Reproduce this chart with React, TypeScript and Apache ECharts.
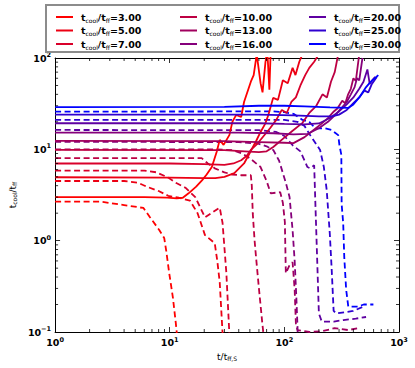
import React, { useEffect, useRef } from "react";
import * as echarts from "echarts";

const ratioLabels = ["3.00", "5.00", "7.00", "10.00", "13.00", "16.00", "20.00", "25.00", "30.00"];
const lineColors = ["#ff0000", "#ec0013", "#d9002a", "#bd0042", "#a1005e", "#85007b", "#5e00a1", "#2f00d0", "#0000ff"];

const solid3 = [[1,3.0],[6,3.0],[9.5,2.96],[11.5,2.9],[13,2.95],[14.6,3.3],[17,3.9],[19.2,4.6],[21,5.3],[23.3,6.4],[25.7,9.4],[27.3,12.7],[29.5,11.2],[33.2,14.4],[35.2,20],[38,23.8],[42,22.6],[44.5,33],[51,55],[54,65],[57.4,110],[62,53],[64.5,42],[68.4,90],[71,120],[74,45],[76,120]];
const solid5 = [[1,4.95],[10,4.9],[20,4.85],[25,4.85],[30,5.0],[36.6,5.5],[44.5,7.0],[51,9.6],[57,12.5],[62,15.5],[68,19],[72.5,23.8],[79.8,36.6],[88,34.8],[97,57],[107,53],[118,78],[125,65],[135,91],[144,110]];
const solid7 = [[1,7],[10,7],[20,6.9],[30,6.75],[36,7.0],[42,7.6],[47,8.5],[51,9.85],[58,11.5],[66,14],[75,17],[85,21],[95,27],[105,25],[115,33],[126,37],[138,50],[152,65],[165,78],[182,91],[200,110]];
const solid10 = [[1,9.85],[30,9.8],[45,9.5],[60,9.3],[70,9.5],[80,10.6],[97,13],[118,16],[144,19.5],[165,25],[190,30],[215,40],[235,37],[255,55],[275,70],[295,110]];
const solid13 = [[1,12.4],[30,12.3],[60,12],[100,11.8],[120,11.7],[150,13.6],[180,16.3],[210,19],[240,22],[270,26],[290,28],[320,34],[340,32],[360,40],[380,46],[400,60],[420,56],[450,110]];
const solid16 = [[1,15.2],[40,15.2],[80,15],[120,14.6],[160,14.8],[200,17],[240,20],[280,24],[320,29],[350,33],[380,40],[410,48],[430,60],[450,57],[480,100]];
const solid20 = [[1,19.3],[60,19.3],[100,19],[150,18.8],[200,19.2],[250,22],[300,26],[350,31],[400,37],[450,46],[490,55],[530,75],[555,52],[590,58],[620,62]];
const solid25 = [[1,24],[60,24],[120,23.5],[200,23],[260,23],[300,24],[350,27],[400,32],[450,37],[500,44],[540,42],[580,52],[640,62]];
const solid30 = [[1,29],[30,29.2],[60,30],[100,30],[150,29.5],[250,28.8],[360,28.4],[400,31],[450,37],[510,47],[560,54],[660,65]];

const dashed3 = [[1,2.67],[2.5,2.67],[4,2.45],[5.9,2.28],[6.7,1.82],[8.1,1.31],[8.95,1.07],[9.3,0.79],[9.9,0.44],[10.65,0.24],[11.3,0.125],[11.6,0.09]];
const dashed5 = [[1,4.5],[4,4.5],[5.3,4.3],[6.3,3.9],[8,3.5],[9.7,3.1],[12,2.95],[15,2.75],[17.5,2.0],[20.3,1.15],[24.7,0.94],[26,0.6],[27.3,0.35],[29,0.09]];
const dashed7 = [[1,5.85],[6,5.85],[7.66,5.6],[9.7,4.9],[11.3,4.3],[13.7,3.8],[16.7,3.0],[20.3,1.8],[27.3,2.3],[28.9,1.56],[31.2,0.44],[33.2,0.09]];
const dashed10 = [[1,8.0],[19,8.0],[21.5,7.0],[24.7,6.2],[30,5.6],[35,5.3],[42,5.2],[51,5.2],[52,4.0],[53,2.0],[55,1.0],[57,0.6],[60,0.3],[64,0.13],[66,0.09]];
const dashed13 = [[1,10],[25,10],[35,9.8],[42,9.1],[50,8],[62,6.4],[70,4.5],[76,3.3],[84,3.35],[92,3.4],[97,2.6],[101,1.6],[103,0.44],[111,0.54],[118,0.58],[123,0.29],[126,0.125],[130,0.105],[165,0.1],[212,0.102],[274,0.11],[361,0.105],[439,0.11]];
const dashed16 = [[1,12.1],[40,12],[60,11.5],[70,10.8],[80,9.85],[90,7.5],[103,4.3],[111,3.0],[118,1.3],[123,0.6],[127,0.25],[130,0.12],[131,0.09]];
const dashed20 = [[1,16.3],[60,16.2],[85,15.5],[100,14],[118,11.1],[138,9.5],[159,6.4],[168,6.2],[182,6.7],[186,2.8],[193,0.66],[200,0.16],[212,0.13],[270,0.13],[327,0.135],[420,0.14],[516,0.146]];
const dashed25 = [[1,21],[100,21],[130,20],[150,18],[168,14.3],[205,9.85],[221,6.4],[234,3.6],[249,1.2],[258,0.52],[269,0.17],[284,0.16],[340,0.165],[398,0.17],[493,0.19]];
const dashed30 = [[1,25.9],[80,26],[100,25.5],[120,24.5],[144,21],[165,20],[186,17],[226,17],[258,16.3],[295,14.3],[302,11.2],[314,8.7],[316,2.5],[326,1.56],[333,0.66],[346,0.29],[361,0.19],[439,0.19],[493,0.2],[598,0.2]];

const solidSets = [solid3, solid5, solid7, solid10, solid13, solid16, solid20, solid25, solid30];
const dashedSets = [dashed3, dashed5, dashed7, dashed10, dashed13, dashed16, dashed20, dashed25, dashed30];

const xMinorTicks = [2,3,4,5,6,7,8,9,20,30,40,50,60,70,80,90,200,300,400,500,600,700,800,900];
const yMinorTicks = [0.2,0.3,0.4,0.5,0.6,0.7,0.8,0.9,2,3,4,5,6,7,8,9,20,30,40,50,60,70,80,90];

const FONT = "DejaVu Sans";

export default function App() {
  const ref = useRef<HTMLDivElement>(null);
  useEffect(() => {
    const chart = echarts.init(ref.current!, null, { renderer: "svg" });
    const series: any[] = [];
    solidSets.forEach((d, i) => {
      series.push({
        name: ratioLabels[i], type: "line", data: d, symbol: "none",
        lineStyle: { color: lineColors[i], width: 1.8 }, itemStyle: { color: lineColors[i] },
        z: 3,
      });
    });
    dashedSets.forEach((d, i) => {
      series.push({
        name: "d" + ratioLabels[i], type: "line", data: d, symbol: "none",
        lineStyle: { color: lineColors[i], width: 1.8, type: [6, 3.5] }, itemStyle: { color: lineColors[i] },
        z: 2,
      });
    });
    series.push({
      type: "custom", silent: true, clip: false, z: 5,
      data: xMinorTicks.map((v) => [v, 1]),
      renderItem: (params: any, api: any) => {
        const v = api.value(0);
        const b = api.coord([v, 0.1]);
        const t = api.coord([v, 100]);
        return {
          type: "group",
          children: [
            { type: "line", shape: { x1: b[0], y1: b[1], x2: b[0], y2: b[1] - 3 }, style: { stroke: "#000", lineWidth: 0.8 } },
            { type: "line", shape: { x1: t[0], y1: t[1], x2: t[0], y2: t[1] + 3 }, style: { stroke: "#000", lineWidth: 0.8 } },
          ],
        };
      },
    });
    series.push({
      type: "custom", silent: true, clip: false, z: 5,
      data: yMinorTicks.map((v) => [1, v]),
      renderItem: (params: any, api: any) => {
        const v = api.value(1);
        const l = api.coord([1, v]);
        const r = api.coord([1000, v]);
        return {
          type: "group",
          children: [
            { type: "line", shape: { x1: l[0], y1: l[1], x2: l[0] + 3, y2: l[1] }, style: { stroke: "#000", lineWidth: 0.8 } },
            { type: "line", shape: { x1: r[0], y1: r[1], x2: r[0] - 3, y2: r[1] }, style: { stroke: "#000", lineWidth: 0.8 } },
          ],
        };
      },
    });

    const legendRich = {
      g: { width: 3, fontSize: 9 },
      b: { fontFamily: FONT, fontWeight: "bold", fontSize: 9.5, lineHeight: 12, color: "#000" },
      s: { fontFamily: FONT, fontSize: 6, verticalAlign: "bottom", lineHeight: 8, color: "#000" },
    };
    const mkLegend = (left: number, names: string[]) => ({
      orient: "vertical", left, top: 7, itemWidth: 17, itemHeight: 2, itemGap: 2.5,
      icon: "rect", data: names, selectedMode: false, z: 10,
      formatter: (n: string) => `{g|}{b|t}{s|cool}{b|/t}{s|ff}{b|=${n}}`,
      textStyle: { rich: legendRich },
    });

    const tickLabel = (v: number) => {
      const e = Math.round(Math.log10(v));
      return `{b|10}{sup|${e < 0 ? "\u2212" + -e : e}}`;
    };
    const labelRich = {
      b: { fontFamily: FONT, fontWeight: "bold", fontSize: 9.5, lineHeight: 13, color: "#000" },
      sup: { fontFamily: FONT, fontWeight: "bold", fontSize: 6.5, verticalAlign: "top", lineHeight: 8, color: "#000" },
    };
    const axisBase = {
      axisLine: { show: true, lineStyle: { color: "#000", width: 1 } },
      axisTick: { show: true, inside: true, length: 5, lineStyle: { color: "#000", width: 0.8 } },
      splitLine: { show: false },
    };

    chart.setOption({
      animation: false,
      backgroundColor: "#fff",
      grid: { left: 46, right: 16, top: 58, bottom: 36 },
      graphic: [
        { type: "rect", shape: { x: 46, y: 5, width: 353, height: 47 }, style: { fill: "#fff", stroke: "#8c8c8c", lineWidth: 2 }, z: 1 },
      ],
      legend: [
        mkLegend(51, ratioLabels.slice(0, 3)),
        mkLegend(175, ratioLabels.slice(3, 6)),
        mkLegend(304, ratioLabels.slice(6, 9)),
      ],
      xAxis: [
        {
          ...axisBase, type: "log", logBase: 10, min: 1, max: 1000,
          axisLabel: { formatter: tickLabel, rich: labelRich, margin: 4 },
          name: "t/t{s|ff,S}", nameLocation: "middle", nameGap: 20,
          nameTextStyle: {
            fontFamily: FONT, fontSize: 9, color: "#000",
            rich: { s: { fontFamily: FONT, fontSize: 6, verticalAlign: "bottom", lineHeight: 8, color: "#000" } },
          },
        },
        { ...axisBase, type: "log", logBase: 10, min: 1, max: 1000, position: "top", axisLabel: { show: false } },
      ],
      yAxis: [
        {
          ...axisBase, type: "log", logBase: 10, min: 0.1, max: 100,
          axisLabel: { formatter: tickLabel, rich: labelRich, margin: 4 },
          name: "t{s|cool}/t{s|ff}", nameLocation: "middle", nameGap: 31, nameRotate: 90,
          nameTextStyle: {
            fontFamily: FONT, fontSize: 9, color: "#000",
            rich: { s: { fontFamily: FONT, fontSize: 6, verticalAlign: "bottom", lineHeight: 8, color: "#000" } },
          },
        },
        { ...axisBase, type: "log", logBase: 10, min: 0.1, max: 100, position: "right", axisLabel: { show: false } },
      ],
      series,
    });
    return () => chart.dispose();
  }, []);
  return <div ref={ref} style={{ position: "fixed", left: 0, top: 0, width: 415, height: 368 }} />;
}
